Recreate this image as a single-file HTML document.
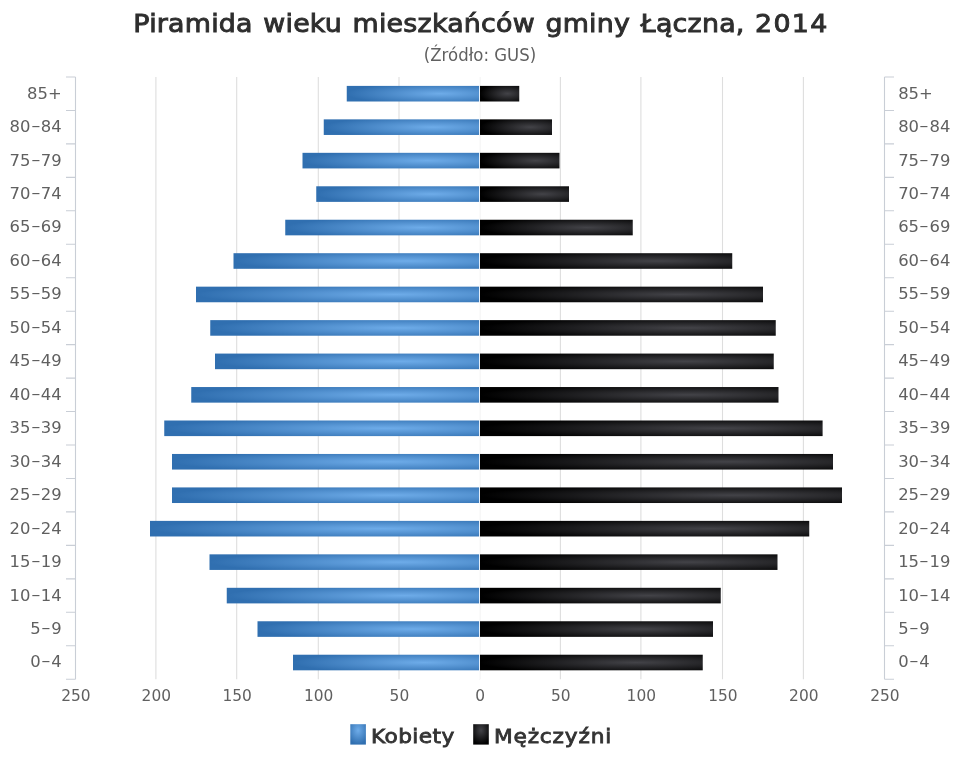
<!DOCTYPE html>
<html lang="pl"><head><meta charset="utf-8"><title>Piramida wieku mieszkańców gminy Łączna, 2014</title>
<style>
html,body{margin:0;padding:0;background:#fff}
body{width:960px;height:768px;position:relative;overflow:hidden;font-family:"DejaVu Sans","Liberation Sans",sans-serif}
.t{position:absolute;left:0;width:960px;text-align:center;white-space:nowrap}
#title{top:6.6px;left:0.9px;font-size:24.7px;font-weight:normal;-webkit-text-stroke:0.9px #2e2e2e;letter-spacing:0.2px;transform:scaleX(1.088);word-spacing:1.6px;transform-origin:480px 0;color:#2e2e2e;line-height:34px}
#sub{top:43.2px;font-size:17.2px;transform:scaleX(0.962);transform-origin:479.5px 0;color:#606060;line-height:24px}
.cl{position:absolute;font-size:16.4px;color:#606060;line-height:20px;height:20px;white-space:nowrap}
.cl.l{right:898.3px;text-align:right}
.cl.r{left:898.2px}
.h{display:inline-block;transform:translateY(0.2px) scale(1.65,0.85);margin:0 2.3px}
.xl{position:absolute;top:686px;width:60px;text-align:center;font-size:15.4px;color:#606060;line-height:20px}
.lg{position:absolute;top:723px;font-size:19.2px;font-weight:normal;-webkit-text-stroke:0.8px #333;color:#333;line-height:28px;white-space:nowrap;transform-origin:0 0;transform:scaleX(1.13)}
</style></head><body>
<svg width="960" height="768" viewBox="0 0 960 768" style="position:absolute;left:0;top:0">
<defs>
<radialGradient id="gw" cx="0.7" cy="0.5" r="0.7"><stop offset="0" stop-color="#6eace9"/><stop offset="1" stop-color="#306fb0"/></radialGradient>
<radialGradient id="gm" cx="0.7" cy="0.5" r="0.7"><stop offset="0" stop-color="#434348"/><stop offset="1" stop-color="#000000"/></radialGradient>
<radialGradient id="lw" cx="0.5" cy="0.3" r="0.7"><stop offset="0" stop-color="#6eace9"/><stop offset="1" stop-color="#306fb0"/></radialGradient>
<radialGradient id="lm" cx="0.5" cy="0.3" r="0.7"><stop offset="0" stop-color="#434348"/><stop offset="1" stop-color="#000000"/></radialGradient>
</defs>
<path d="M155.90 77.0V679.2 M236.70 77.0V679.2 M318.30 77.0V679.2 M399.00 77.0V679.2 M479.70 77.0V679.2 M560.40 77.0V679.2 M640.90 77.0V679.2 M722.50 77.0V679.2 M803.40 77.0V679.2" stroke="#dedede" stroke-width="1.1" fill="none"/>
<path d="M75.5 77.0V679.2 M884.5 77.0V679.2 M66.00 77.00H75.5 M884.5 77.00H894.00 M66.00 110.46H75.5 M884.5 110.46H894.00 M66.00 143.91H75.5 M884.5 143.91H894.00 M66.00 177.37H75.5 M884.5 177.37H894.00 M66.00 210.82H75.5 M884.5 210.82H894.00 M66.00 244.28H75.5 M884.5 244.28H894.00 M66.00 277.73H75.5 M884.5 277.73H894.00 M66.00 311.19H75.5 M884.5 311.19H894.00 M66.00 344.64H75.5 M884.5 344.64H894.00 M66.00 378.10H75.5 M884.5 378.10H894.00 M66.00 411.56H75.5 M884.5 411.56H894.00 M66.00 445.01H75.5 M884.5 445.01H894.00 M66.00 478.47H75.5 M884.5 478.47H894.00 M66.00 511.92H75.5 M884.5 511.92H894.00 M66.00 545.38H75.5 M884.5 545.38H894.00 M66.00 578.83H75.5 M884.5 578.83H894.00 M66.00 612.29H75.5 M884.5 612.29H894.00 M66.00 645.74H75.5 M884.5 645.74H894.00 M66.00 679.20H75.5 M884.5 679.20H894.00" stroke="#c9ced6" stroke-width="1.1" fill="none"/>
<rect x="346.75" y="85.90" width="133.25" height="15.6" fill="url(#gw)"/>
<rect x="480.00" y="85.90" width="39.25" height="15.6" fill="url(#gm)"/>
<rect x="323.75" y="119.36" width="156.25" height="15.6" fill="url(#gw)"/>
<rect x="480.00" y="119.36" width="72.00" height="15.6" fill="url(#gm)"/>
<rect x="302.50" y="152.82" width="177.50" height="15.6" fill="url(#gw)"/>
<rect x="480.00" y="152.82" width="79.50" height="15.6" fill="url(#gm)"/>
<rect x="316.25" y="186.28" width="163.75" height="15.6" fill="url(#gw)"/>
<rect x="480.00" y="186.28" width="89.00" height="15.6" fill="url(#gm)"/>
<rect x="285.25" y="219.74" width="194.75" height="15.6" fill="url(#gw)"/>
<rect x="480.00" y="219.74" width="152.75" height="15.6" fill="url(#gm)"/>
<rect x="233.50" y="253.20" width="246.50" height="15.6" fill="url(#gw)"/>
<rect x="480.00" y="253.20" width="252.25" height="15.6" fill="url(#gm)"/>
<rect x="196.00" y="286.66" width="284.00" height="15.6" fill="url(#gw)"/>
<rect x="480.00" y="286.66" width="283.00" height="15.6" fill="url(#gm)"/>
<rect x="210.25" y="320.12" width="269.75" height="15.6" fill="url(#gw)"/>
<rect x="480.00" y="320.12" width="295.75" height="15.6" fill="url(#gm)"/>
<rect x="215.00" y="353.58" width="265.00" height="15.6" fill="url(#gw)"/>
<rect x="480.00" y="353.58" width="293.75" height="15.6" fill="url(#gm)"/>
<rect x="191.25" y="387.04" width="288.75" height="15.6" fill="url(#gw)"/>
<rect x="480.00" y="387.04" width="298.50" height="15.6" fill="url(#gm)"/>
<rect x="164.25" y="420.50" width="315.75" height="15.6" fill="url(#gw)"/>
<rect x="480.00" y="420.50" width="342.60" height="15.6" fill="url(#gm)"/>
<rect x="172.00" y="453.96" width="308.00" height="15.6" fill="url(#gw)"/>
<rect x="480.00" y="453.96" width="353.00" height="15.6" fill="url(#gm)"/>
<rect x="172.00" y="487.42" width="308.00" height="15.6" fill="url(#gw)"/>
<rect x="480.00" y="487.42" width="362.00" height="15.6" fill="url(#gm)"/>
<rect x="150.00" y="520.88" width="330.00" height="15.6" fill="url(#gw)"/>
<rect x="480.00" y="520.88" width="329.25" height="15.6" fill="url(#gm)"/>
<rect x="209.50" y="554.34" width="270.50" height="15.6" fill="url(#gw)"/>
<rect x="480.00" y="554.34" width="297.50" height="15.6" fill="url(#gm)"/>
<rect x="226.75" y="587.80" width="253.25" height="15.6" fill="url(#gw)"/>
<rect x="480.00" y="587.80" width="240.75" height="15.6" fill="url(#gm)"/>
<rect x="257.50" y="621.26" width="222.50" height="15.6" fill="url(#gw)"/>
<rect x="480.00" y="621.26" width="233.00" height="15.6" fill="url(#gm)"/>
<rect x="293.00" y="654.72" width="187.00" height="15.6" fill="url(#gw)"/>
<rect x="480.00" y="654.72" width="222.75" height="15.6" fill="url(#gm)"/>
<path d="M479.5 77.0V679.2" stroke="#ffffff" stroke-opacity="0.85" stroke-width="1"/>
<rect x="350.3" y="724.2" width="15.6" height="20.4" fill="url(#lw)"/>
<rect x="473.2" y="724.2" width="15.6" height="20.4" fill="url(#lm)"/>
</svg>
<div id="title" class="t">Piramida wieku mieszkańców gminy Łączna, <span style="letter-spacing:1.2px">2014</span></div>
<div id="sub" class="t">(Źródło: GUS)</div>
<div class="cl l" style="top:83.60px">85+</div>
<div class="cl r" style="top:83.60px">85+</div>
<div class="cl l" style="top:117.06px">80<span class="h">-</span>84</div>
<div class="cl r" style="top:117.06px">80<span class="h">-</span>84</div>
<div class="cl l" style="top:150.52px">75<span class="h">-</span>79</div>
<div class="cl r" style="top:150.52px">75<span class="h">-</span>79</div>
<div class="cl l" style="top:183.98px">70<span class="h">-</span>74</div>
<div class="cl r" style="top:183.98px">70<span class="h">-</span>74</div>
<div class="cl l" style="top:217.44px">65<span class="h">-</span>69</div>
<div class="cl r" style="top:217.44px">65<span class="h">-</span>69</div>
<div class="cl l" style="top:250.90px">60<span class="h">-</span>64</div>
<div class="cl r" style="top:250.90px">60<span class="h">-</span>64</div>
<div class="cl l" style="top:284.36px">55<span class="h">-</span>59</div>
<div class="cl r" style="top:284.36px">55<span class="h">-</span>59</div>
<div class="cl l" style="top:317.82px">50<span class="h">-</span>54</div>
<div class="cl r" style="top:317.82px">50<span class="h">-</span>54</div>
<div class="cl l" style="top:351.28px">45<span class="h">-</span>49</div>
<div class="cl r" style="top:351.28px">45<span class="h">-</span>49</div>
<div class="cl l" style="top:384.74px">40<span class="h">-</span>44</div>
<div class="cl r" style="top:384.74px">40<span class="h">-</span>44</div>
<div class="cl l" style="top:418.20px">35<span class="h">-</span>39</div>
<div class="cl r" style="top:418.20px">35<span class="h">-</span>39</div>
<div class="cl l" style="top:451.66px">30<span class="h">-</span>34</div>
<div class="cl r" style="top:451.66px">30<span class="h">-</span>34</div>
<div class="cl l" style="top:485.12px">25<span class="h">-</span>29</div>
<div class="cl r" style="top:485.12px">25<span class="h">-</span>29</div>
<div class="cl l" style="top:518.58px">20<span class="h">-</span>24</div>
<div class="cl r" style="top:518.58px">20<span class="h">-</span>24</div>
<div class="cl l" style="top:552.04px">15<span class="h">-</span>19</div>
<div class="cl r" style="top:552.04px">15<span class="h">-</span>19</div>
<div class="cl l" style="top:585.50px">10<span class="h">-</span>14</div>
<div class="cl r" style="top:585.50px">10<span class="h">-</span>14</div>
<div class="cl l" style="top:618.96px">5<span class="h">-</span>9</div>
<div class="cl r" style="top:618.96px">5<span class="h">-</span>9</div>
<div class="cl l" style="top:652.42px">0<span class="h">-</span>4</div>
<div class="cl r" style="top:652.42px">0<span class="h">-</span>4</div>
<div class="xl" style="left:45.90px">250</div>
<div class="xl" style="left:126.30px">200</div>
<div class="xl" style="left:207.10px">150</div>
<div class="xl" style="left:288.70px">100</div>
<div class="xl" style="left:369.40px">50</div>
<div class="xl" style="left:450.10px">0</div>
<div class="xl" style="left:530.80px">50</div>
<div class="xl" style="left:611.30px">100</div>
<div class="xl" style="left:692.90px">150</div>
<div class="xl" style="left:773.80px">200</div>
<div class="xl" style="left:854.90px">250</div>
<div class="lg" style="left:370.6px;letter-spacing:0.35px">Kobiety</div>
<div class="lg" style="left:493.8px;letter-spacing:0.72px">Mężczyźni</div>
</body></html>
